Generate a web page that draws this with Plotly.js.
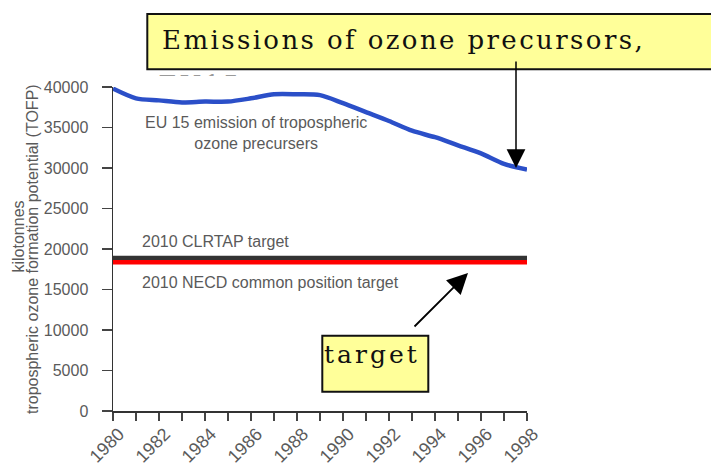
<!DOCTYPE html>
<html>
<head>
<meta charset="utf-8">
<script src="https://cdn.plot.ly/plotly-3.0.1.min.js"></script>
<style>
  html, body { margin: 0; padding: 0; background: #fff; }
  #chart { width: 711px; height: 463px; }
  .annotation[data-index="0"] .annotation-text {
    letter-spacing: 2.4px;
    clip-path: inset(0px -20px 24px -20px);
  }
  .annotation[data-index="2"] .annotation-text { letter-spacing: 2.4px; }
  .annotation[data-index="3"] .annotation-text { letter-spacing: 3px; }
</style>
</head>
<body>
<div id="chart"></div>
<script>
// ---- data ----
const years = [1980, 1981, 1982, 1983, 1984, 1985, 1986, 1987, 1988, 1989,
               1990, 1991, 1992, 1993, 1994, 1995, 1996, 1997, 1998];
const eu15Emissions = [39800, 38600, 38350, 38100, 38200, 38200, 38600, 39100, 39100, 39000,
                       38000, 36900, 35800, 34600, 33800, 32800, 31800, 30500, 29800];
const targetYears = [1980, 1998];
const clrtapTarget = [18900, 18900];
const necdTarget = [18350, 18350];
const xTickYears = [1980, 1982, 1984, 1986, 1988, 1990, 1992, 1994, 1996, 1998];
const xTickLabels = ['1980', '1982', '1984', '1986', '1988', '1990', '1992', '1994', '1996', '1998'];
const yTickValues = [0, 5000, 10000, 15000, 20000, 25000, 30000, 35000, 40000];
const yTickLabels = ['0', '5000', '10000', '15000', '20000', '25000', '30000', '35000', '40000'];

const titleText = 'Emissions of ozone precursors,';
const titleFragment = 'EU15';
const targetText = 'target';
const seriesLabel = 'EU 15 emission of tropospheric<br>ozone precursers';
const clrtapLabel = '2010 CLRTAP target';
const necdLabel = '2010 NECD common position target';
const yTitleLine1 = 'kilotonnes';
const yTitleLine2 = 'tropospheric ozone formation potential (TOFP)';

// ---- layout helpers (pixel -> paper) ----
const L = 113, T = 87, W = 414, H = 324;
const px = x => (x - L) / W;
const py = y => (T + H - y) / H;

const traces = [
  { x: targetYears, y: clrtapTarget, mode: 'lines', line: { color: '#333333', width: 4.5 },
    cliponaxis: false, hoverinfo: 'skip' },
  { x: targetYears, y: necdTarget, mode: 'lines', line: { color: '#ff0000', width: 4.5 },
    cliponaxis: false, hoverinfo: 'skip' },
  { x: years, y: eu15Emissions, mode: 'lines',
    line: { color: '#2b4fc8', width: 4.5, shape: 'spline', smoothing: 0.8 },
    cliponaxis: false, hoverinfo: 'skip' }
];

const grayFont = { family: 'Liberation Sans, Arial, sans-serif', size: 16, color: '#5a5a5a' };
const serif = 'DejaVu Serif, serif';

const layout = {
  width: 711, height: 463,
  margin: { l: L, r: 711 - L - W, t: T, b: 463 - T - H, pad: 0 },
  paper_bgcolor: '#ffffff', plot_bgcolor: '#ffffff',
  showlegend: false,
  font: grayFont,
  xaxis: {
    range: [1980, 1998], showgrid: false, zeroline: false,
    showline: true, linecolor: '#333333', linewidth: 1.5,
    ticks: 'outside', ticklen: 8, tickwidth: 1.5, tickcolor: '#444444',
    tickmode: 'array', tickvals: xTickYears, ticktext: xTickLabels,
    tickangle: -45, ticklabelshift: 6, ticklabelstandoff: -4,
    tickfont: { family: grayFont.family, size: 18, color: '#5a5a5a' },
    minor: { dtick: 1, tick0: 1980, ticks: 'outside', ticklen: 8, tickwidth: 1.5, tickcolor: '#444444', showgrid: false }
  },
  yaxis: {
    range: [0, 40000], showgrid: false, zeroline: false,
    showline: true, linecolor: '#333333', linewidth: 1.5,
    ticks: 'outside', ticklen: 10, tickwidth: 1.5, tickcolor: '#444444',
    tickmode: 'array', tickvals: yTickValues, ticktext: yTickLabels,
    ticklabelstandoff: 10,
    tickfont: { family: grayFont.family, size: 16, color: '#5a5a5a' }
  },
  shapes: [
    { type: 'rect', xref: 'paper', yref: 'paper',
      x0: px(147.3), x1: px(760), y0: py(69.3), y1: py(14),
      line: { color: '#111111', width: 2 }, fillcolor: '#ffff99', layer: 'above' },
    { type: 'rect', xref: 'paper', yref: 'paper',
      x0: px(322.3), x1: px(428.3), y0: py(391.7), y1: py(335.7),
      line: { color: '#111111', width: 2 }, fillcolor: '#ffff99', layer: 'above' }
  ],
  annotations: [
    // 0: second title line, clipped so only its top peeks below the title box
    { xref: 'paper', yref: 'paper', x: px(200), y: py(84.5), xanchor: 'center', yanchor: 'middle',
      text: titleFragment, showarrow: false, font: { family: serif, size: 26, color: '#9a9a9a' } },
    // 1: series label
    { xref: 'paper', yref: 'paper', x: px(256), y: py(133), xanchor: 'center', yanchor: 'middle',
      text: seriesLabel, align: 'center', showarrow: false, font: grayFont },
    // 2: title text (centred because letter-spacing is applied after measuring)
    { xref: 'paper', yref: 'paper', x: px(403), y: py(40), xanchor: 'center', yanchor: 'middle',
      text: titleText, showarrow: false, font: { family: serif, size: 26, color: '#111111' } },
    // 3: target text
    { xref: 'paper', yref: 'paper', x: px(372), y: py(354.6), xanchor: 'center', yanchor: 'middle',
      text: targetText, showarrow: false, font: { family: serif, size: 25, color: '#111111' } },
    // 4, 5: target labels
    { xref: 'paper', yref: 'paper', x: px(140), y: py(241.2), xanchor: 'left', yanchor: 'middle',
      text: clrtapLabel, showarrow: false, font: grayFont },
    { xref: 'paper', yref: 'paper', x: px(140), y: py(282.8), xanchor: 'left', yanchor: 'middle',
      text: necdLabel, showarrow: false, font: grayFont },
    // 6, 7: y-axis title lines
    { xref: 'paper', yref: 'paper', x: px(18.5), y: py(237), xanchor: 'center', yanchor: 'middle',
      text: yTitleLine1, textangle: -90, showarrow: false, font: grayFont },
    { xref: 'paper', yref: 'paper', x: px(32), y: py(249), xanchor: 'center', yanchor: 'middle',
      text: yTitleLine2, textangle: -90, showarrow: false, font: grayFont },
    // 8: arrow from title to the 1997/98 end of the series
    { xref: 'paper', yref: 'paper', x: px(516), y: py(168), ax: 0, ay: -108,
      text: '', showarrow: true, arrowhead: 2, arrowsize: 2.5, arrowwidth: 1.5,
      arrowcolor: '#000000', standoff: 0, startstandoff: 0 },
    // 9: arrow from "target" box to target lines
    { xref: 'paper', yref: 'paper', x: px(468), y: py(273), ax: -55, ay: 55,
      text: '', showarrow: true, arrowhead: 2, arrowsize: 2.3, arrowwidth: 1.8,
      arrowcolor: '#000000', standoff: 0, startstandoff: 0 }
  ]
};

Plotly.newPlot('chart', traces, layout, { displayModeBar: false, staticPlot: true });
</script>
</body>
</html>
